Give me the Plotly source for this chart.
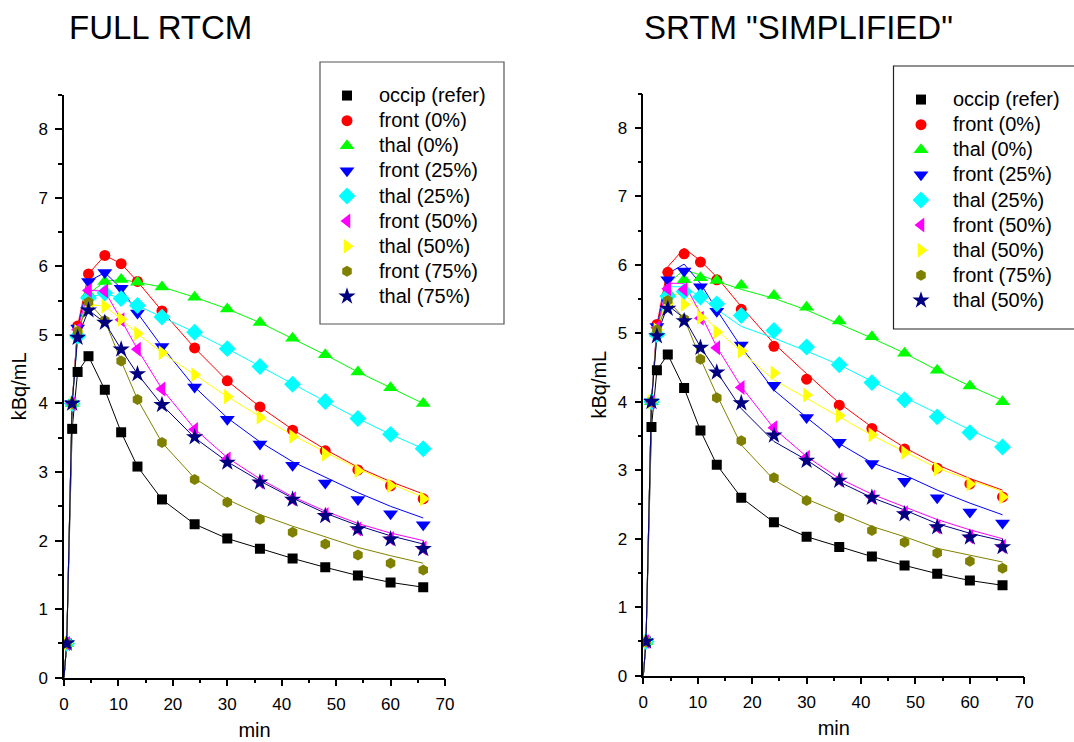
import plotly.graph_objects as go

W, H = 1074, 742

# ---------------- data ----------------
t_data = [0.5, 1.5, 2.5, 4.5, 7.5, 10.5, 13.5, 18, 24, 30, 36, 42, 48, 54, 60, 66]
t_fit = [0, 0.5, 1.5, 2.5, 4.5, 7.5, 10.5, 13.5, 18, 24, 30, 36, 42, 48, 54, 60, 66]

occip = [0.5, 3.63, 4.46, 4.69, 4.20, 3.58, 3.08, 2.60, 2.24, 2.03, 1.88, 1.74, 1.61, 1.49, 1.39, 1.32]
front0 = [0.5, 4.0, 5.13, 5.89, 6.16, 6.04, 5.78, 5.35, 4.81, 4.33, 3.95, 3.61, 3.31, 3.03, 2.80, 2.61]
thal0 = [0.5, 4.0, 5.0, 5.60, 5.78, 5.81, 5.77, 5.70, 5.55, 5.38, 5.18, 4.95, 4.71, 4.46, 4.23, 4.0]
front25 = [0.5, 4.0, 5.1, 5.78, 5.91, 5.68, 5.32, 4.83, 4.24, 3.77, 3.41, 3.10, 2.84, 2.60, 2.39, 2.23]
thal25 = [0.5, 4.0, 4.98, 5.54, 5.61, 5.53, 5.43, 5.26, 5.04, 4.80, 4.54, 4.28, 4.03, 3.78, 3.55, 3.34]
front50 = [0.5, 4.0, 5.08, 5.65, 5.64, 5.22, 4.79, 4.21, 3.62, 3.19, 2.86, 2.61, 2.38, 2.17, 2.03, 1.89]
thal50 = [0.5, 4.0, 5.05, 5.44, 5.42, 5.23, 5.02, 4.74, 4.42, 4.10, 3.80, 3.52, 3.26, 3.02, 2.80, 2.61]
front75 = [0.5, 4.0, 5.05, 5.48, 5.21, 4.62, 4.06, 3.43, 2.89, 2.56, 2.31, 2.12, 1.95, 1.79, 1.67, 1.57]
thal75 = [0.5, 4.0, 4.96, 5.36, 5.18, 4.79, 4.43, 3.98, 3.51, 3.14, 2.85, 2.60, 2.36, 2.17, 2.02, 1.88]

# fitted curves, FULL RTCM
occip_full = [0, 0.5, 3.63, 4.46, 4.69, 4.20, 3.58, 3.08, 2.60, 2.24, 2.03, 1.88, 1.74, 1.61, 1.49, 1.39, 1.32]
front0_full = [0, 0.5, 4.0, 5.13, 5.89, 6.16, 6.04, 5.78, 5.35, 4.81, 4.33, 3.95, 3.62, 3.33, 3.07, 2.86, 2.68]
thal0_full = [0, 0.5, 4.0, 5.0, 5.60, 5.78, 5.81, 5.77, 5.70, 5.55, 5.38, 5.18, 4.95, 4.71, 4.46, 4.23, 4.0]
front25_full = [0, 0.5, 4.0, 5.1, 5.78, 5.91, 5.68, 5.32, 4.83, 4.24, 3.79, 3.44, 3.15, 2.92, 2.70, 2.50, 2.33]
thal25_full = [0, 0.5, 4.0, 4.98, 5.54, 5.61, 5.53, 5.43, 5.26, 5.04, 4.80, 4.54, 4.28, 4.03, 3.78, 3.55, 3.34]
front50_full = [0, 0.5, 4.0, 5.08, 5.65, 5.64, 5.22, 4.79, 4.21, 3.63, 3.21, 2.90, 2.64, 2.43, 2.25, 2.11, 2.0]
thal50_full = [0, 0.5, 4.0, 5.05, 5.44, 5.42, 5.23, 5.02, 4.74, 4.42, 4.10, 3.81, 3.54, 3.29, 3.05, 2.83, 2.63]
front75_full = [0, 0.5, 4.0, 5.05, 5.48, 5.21, 4.62, 4.06, 3.43, 2.91, 2.60, 2.38, 2.21, 2.05, 1.90, 1.78, 1.67]
thal75_full = [0, 0.5, 4.0, 4.96, 5.36, 5.18, 4.79, 4.43, 3.98, 3.50, 3.15, 2.87, 2.62, 2.40, 2.22, 2.07, 1.95]

# fitted curves, SRTM "SIMPLIFIED"
occip_srtm = [0, 0.5, 3.63, 4.46, 4.69, 4.20, 3.58, 3.08, 2.60, 2.24, 2.03, 1.88, 1.74, 1.61, 1.49, 1.39, 1.32]
front0_srtm = [0, 0.5, 4.0, 5.12, 5.97, 6.24, 6.06, 5.82, 5.39, 4.85, 4.41, 3.98, 3.63, 3.33, 3.08, 2.88, 2.71]
thal0_srtm = [0, 0.5, 4.0, 5.0, 5.72, 5.93, 5.85, 5.76, 5.64, 5.51, 5.34, 5.14, 4.93, 4.71, 4.46, 4.23, 4.02]
front25_srtm = [0, 0.5, 4.0, 5.08, 5.87, 6.01, 5.73, 5.34, 4.80, 4.17, 3.77, 3.39, 3.11, 2.93, 2.71, 2.52, 2.35]
thal25_srtm = [0, 0.5, 4.0, 5.0, 5.68, 5.68, 5.53, 5.35, 5.10, 4.93, 4.74, 4.54, 4.30, 4.07, 3.83, 3.59, 3.37]
front50_srtm = [0, 0.5, 4.0, 5.06, 5.73, 5.73, 5.29, 4.80, 4.22, 3.61, 3.20, 2.88, 2.65, 2.46, 2.28, 2.13, 2.0]
thal50_srtm = [0, 0.5, 4.0, 5.04, 5.56, 5.58, 5.31, 5.05, 4.73, 4.32, 4.05, 3.78, 3.51, 3.27, 3.03, 2.86, 2.69]
front75_srtm = [0, 0.5, 4.0, 5.03, 5.48, 5.22, 4.63, 4.10, 3.37, 2.86, 2.58, 2.38, 2.18, 2.03, 1.86, 1.76, 1.66]
thal75_srtm = [0, 0.5, 4.0, 4.97, 5.41, 5.22, 4.80, 4.44, 3.90, 3.42, 3.15, 2.83, 2.60, 2.42, 2.22, 2.08, 1.97]

labels_full = ["occip (refer)", "front (0%)", "thal (0%)", "front (25%)", "thal (25%)",
               "front (50%)", "thal (50%)", "front (75%)", "thal (75%)"]
labels_srtm = ["occip (refer)", "front (0%)", "thal (0%)", "front (25%)", "thal (25%)",
               "front (50%)", "thal (50%)", "front (75%)", "thal (50%)"]

colors = ["#000000", "#FF0000", "#00FF00", "#0000FF", "#00FFFF",
          "#FF00FF", "#FFFF00", "#808000", "#000080"]
symbols = ["square", "circle", "triangle-up", "triangle-down", "diamond",
           "triangle-left", "triangle-right", "hexagon", "star"]
sizes = [10, 11, 13, 13, 13, 13, 13, 11, 13]

data_series = [occip, front0, thal0, front25, thal25, front50, thal50, front75, thal75]
fits_full = [occip_full, front0_full, thal0_full, front25_full, thal25_full,
             front50_full, thal50_full, front75_full, thal75_full]
fits_srtm = [occip_srtm, front0_srtm, thal0_srtm, front25_srtm, thal25_srtm,
             front50_srtm, thal50_srtm, front75_srtm, thal75_srtm]

FONT = "Liberation Sans, Arial, sans-serif"

fig = go.Figure()

panels = [("x", "y", "legend", fits_full, labels_full),
          ("x2", "y2", "legend2", fits_srtm, labels_srtm)]

for xa, ya, leg, fits, labels in panels:
    for fit, c in zip(fits, colors):
        fig.add_trace(go.Scatter(x=t_fit, y=fit, mode="lines", xaxis=xa, yaxis=ya,
                                 line=dict(color=c, width=1), showlegend=False,
                                 hoverinfo="skip"))
    for d, c, s, sz, lab in zip(data_series, colors, symbols, sizes, labels):
        fig.add_trace(go.Scatter(x=t_data, y=d, mode="markers", xaxis=xa, yaxis=ya,
                                 name='<span style="font-size:20px">' + lab + "</span>",
                                 legend=leg,
                                 marker=dict(color=c, symbol=s, size=sz, line=dict(width=0))))

def px(v):
    return v / W

def py(v):
    return 1 - v / H

xcommon = dict(range=[0, 70], dtick=10, tick0=0, showline=True, linecolor="black",
               linewidth=1.5, ticks="outside", ticklen=7, tickwidth=1.5, tickcolor="black",
               minor=dict(dtick=5, ticks="outside", ticklen=4, tickwidth=1.5, tickcolor="black"),
               showgrid=False, zeroline=False, mirror=False, automargin=False,
               ticklabelstandoff=3,
               tickfont=dict(family=FONT, size=17, color="black"),
               title=dict(text="min", font=dict(family=FONT, size=20, color="black"), standoff=10))
ycommon = dict(range=[0, 8.5], dtick=1, tick0=0, showline=True, linecolor="black",
               linewidth=1.5, ticks="outside", ticklen=7, tickwidth=1.5, tickcolor="black",
               minor=dict(dtick=0.5, ticks="outside", ticklen=4, tickwidth=1.5, tickcolor="black"),
               showgrid=False, zeroline=False, mirror=False, automargin=False,
               ticklabelstandoff=4,
               tickfont=dict(family=FONT, size=17, color="black"),
               title=dict(text="kBq/mL", font=dict(family=FONT, size=20, color="black"), standoff=6))

leg_common = dict(font=dict(family=FONT, size=17, color="black"), bgcolor="rgba(0,0,0,0)",
                  borderwidth=0, itemwidth=54, xanchor="left", yanchor="top",
                  tracegroupgap=0)

fig.update_layout(
    width=W, height=H, margin=dict(l=0, r=0, t=0, b=0, autoexpand=False),
    paper_bgcolor="white", plot_bgcolor="white",
    font=dict(family=FONT, color="black"),
    xaxis=dict(domain=[px(64), px(445)], anchor="y", **xcommon),
    yaxis=dict(domain=[py(677.7), py(95)], anchor="x", **ycommon),
    xaxis2=dict(domain=[px(643.3), px(1024.3)], anchor="y2", **xcommon),
    yaxis2=dict(domain=[py(675.7), py(93.6)], anchor="x2", **ycommon),
    legend=dict(x=px(315), y=py(78), **leg_common),
    legend2=dict(x=px(889), y=py(82), **leg_common),
    shapes=[
        dict(type="rect", xref="paper", yref="paper", x0=px(320), x1=px(504),
             y0=py(324), y1=py(62), line=dict(color="#555555", width=1.2)),
        dict(type="rect", xref="paper", yref="paper", x0=px(893.5), x1=px(1090),
             y0=py(329), y1=py(66), line=dict(color="#222222", width=1.2)),
    ],
    annotations=[
        dict(text="FULL RTCM", xref="paper", yref="paper", x=px(67), y=py(27),
             xanchor="left", yanchor="middle", showarrow=False,
             font=dict(family=FONT, size=33, color="black")),
        dict(text='SRTM "SIMPLIFIED"', xref="paper", yref="paper", x=px(642), y=py(27),
             xanchor="left", yanchor="middle", showarrow=False,
             font=dict(family=FONT, size=33, color="black")),
    ],
)

fig.write_html("out.html", config={"displayModeBar": False},
               post_script="document.body.style.margin='0px';")
